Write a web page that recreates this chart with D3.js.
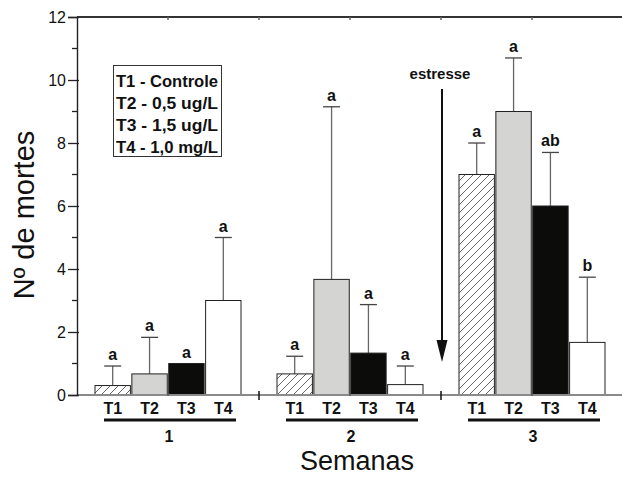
<!DOCTYPE html>
<html>
<head>
<meta charset="utf-8">
<script src="https://cdn.jsdelivr.net/npm/d3@7"></script>
<style>
  html, body { margin: 0; padding: 0; background: #fff; }
  svg { display: block; font-family: "Liberation Sans", Arial, sans-serif; }
</style>
</head>
<body>
<script>
// weeks and treatments
const weeks = ["1", "2", "3"];
const treatments = ["T1", "T2", "T3", "T4"];
// mean deaths per week, T1..T4
const week1 = [0.3, 0.67, 1.0, 3.0];
const week2 = [0.67, 3.67, 1.33, 0.33];
const week3 = [7.0, 9.0, 6.0, 1.67];
// standard deviation (upper error bar)
const sd1 = [0.62, 1.16, 0, 2.0];
const sd2 = [0.56, 5.48, 1.54, 0.59];
const sd3 = [1.0, 1.7, 1.7, 2.07];
// letters
const let1 = ["a", "a", "a", "a"];
const let2 = ["a", "a", "a", "a"];
const let3 = ["a", "a", "ab", "b"];
const yTicks = [0, 2, 4, 6, 8, 10, 12];
const legendItems = ["T1 - Controle", "T2 - 0,5 ug/L", "T3 - 1,5 ug/L", "T4 - 1,0 mg/L"];

const means = [week1, week2, week3];
const sds = [sd1, sd2, sd3];
const lets = [let1, let2, let3];

const W = 622, H = 477;
const svg = d3.select("body").append("svg").attr("width", W).attr("height", H);

const x = d3.scaleLinear().domain([0.5, 3.5]).range([77, 623]);
const y = d3.scaleLinear().domain([0, 12]).range([395, 17]);
const inner = d3.scaleBand().domain(treatments).range([-73, 73]).paddingInner(0.04);

const fills = { T1: "url(#hatch)", T2: "#d4d4d2", T3: "#0c0c0a", T4: "#ffffff" };

const defs = svg.append("defs");
const pat = defs.append("pattern")
  .attr("id", "hatch").attr("patternUnits", "userSpaceOnUse")
  .attr("width", 8).attr("height", 8);
pat.append("rect").attr("width", 8).attr("height", 8).attr("fill", "#fff");
pat.append("path").attr("d", "M-2,2 L2,-2 M0,8 L8,0 M6,10 L10,6")
  .attr("stroke", "#555").attr("stroke-width", 0.9);

// rows
const rows = [];
weeks.forEach((w, gi) => {
  treatments.forEach((t, ti) => {
    rows.push({ week: gi + 1, t, v: means[gi][ti], sd: sds[gi][ti], l: lets[gi][ti] });
  });
});

// error bars
const eb = svg.append("g");
rows.forEach(d => {
  const cx = x(d.week) + inner(d.t) + inner.bandwidth() / 2;
  if (d.sd > 0) {
    eb.append("line").attr("x1", cx).attr("x2", cx)
      .attr("y1", y(d.v)).attr("y2", y(d.v + d.sd))
      .attr("stroke", "#666").attr("stroke-width", 1.3);
    eb.append("line").attr("x1", cx - 8.5).attr("x2", cx + 8.5)
      .attr("y1", y(d.v + d.sd)).attr("y2", y(d.v + d.sd))
      .attr("stroke", "#444").attr("stroke-width", 1.3);
  }
});

// bars
svg.append("g").selectAll("rect").data(rows).join("rect")
  .attr("x", d => x(d.week) + inner(d.t))
  .attr("y", d => y(d.v))
  .attr("width", inner.bandwidth())
  .attr("height", d => y(0) - y(d.v))
  .attr("fill", d => fills[d.t])
  .attr("stroke", "#222").attr("stroke-width", 1);

// letters
svg.append("g").selectAll("text").data(rows).join("text")
  .attr("x", d => x(d.week) + inner(d.t) + inner.bandwidth() / 2)
  .attr("y", d => y(d.v + d.sd) - 6)
  .attr("text-anchor", "middle")
  .attr("font-size", 16).attr("font-weight", "bold").attr("fill", "#111")
  .text(d => d.l);

// frame: top line and bottom axis
svg.append("line").attr("x1", 77).attr("x2", W).attr("y1", y(12)).attr("y2", y(12))
  .attr("stroke", "#333").attr("stroke-width", 2);
svg.append("line").attr("x1", 77).attr("x2", W).attr("y1", y(0)).attr("y2", y(0))
  .attr("stroke", "#8a8a8a").attr("stroke-width", 2.2);

// top ticks and bottom ticks
[1, 1.5, 2, 2.5, 3].forEach(v => {
  svg.append("line").attr("x1", x(v)).attr("x2", x(v)).attr("y1", y(12)).attr("y2", y(12) + 3)
    .attr("stroke", "#666").attr("stroke-width", 1.5);
});
[1.5, 2.5].forEach(v => {
  svg.append("line").attr("x1", x(v)).attr("x2", x(v)).attr("y1", y(0) - 4).attr("y2", y(0) + 5)
    .attr("stroke", "#111").attr("stroke-width", 1.5);
});
[1, 2, 3].forEach(v => {
  svg.append("line").attr("x1", x(v)).attr("x2", x(v)).attr("y1", y(0) - 2).attr("y2", y(0) + 1)
    .attr("stroke", "#555").attr("stroke-width", 1.5);
});

// y axis
const yAxis = d3.axisLeft(y).tickValues(yTicks).tickSize(9).tickPadding(2).tickFormat(d3.format("d"));
const ya = svg.append("g").attr("transform", "translate(77,0)").call(yAxis);
ya.select(".domain").attr("stroke", "#222").attr("stroke-width", 1.4);
ya.selectAll(".tick line").attr("stroke", "#222").attr("stroke-width", 1.3).attr("x2", -9).attr("x1", 2);
ya.selectAll(".tick text").attr("font-size", 16).attr("fill", "#111")
  .attr("font-family", "Liberation Sans, Arial, sans-serif");
svg.append("g").selectAll("line").data(d3.range(1, 12, 2)).join("line")
  .attr("x1", 72).attr("x2", 77).attr("y1", d => y(d)).attr("y2", d => y(d))
  .attr("stroke", "#222").attr("stroke-width", 1.3);

// treatment labels, underlines, week labels
weeks.forEach((w, gi) => {
  const g = svg.append("g").attr("transform", `translate(${x(gi + 1)},0)`);
  g.selectAll("text.t").data(treatments).join("text").attr("class", "t")
    .attr("x", t => inner(t) + inner.bandwidth() / 2).attr("y", 414)
    .attr("text-anchor", "middle").attr("font-size", 16).attr("font-weight", "bold").attr("fill", "#111")
    .text(t => t);
  g.append("line").attr("x1", -64).attr("x2", 68).attr("y1", 420).attr("y2", 420)
    .attr("stroke", "#111").attr("stroke-width", 3);
  g.append("text").attr("x", 1).attr("y", 442).attr("text-anchor", "middle")
    .attr("font-size", 16).attr("font-weight", "bold").attr("fill", "#111").text(w);
});

// legend
svg.append("rect").attr("x", 113.5).attr("y", 65.5).attr("width", 108).attr("height", 91)
  .attr("fill", "#fff").attr("stroke", "#333").attr("stroke-width", 1);
svg.append("g").selectAll("text").data(legendItems).join("text")
  .attr("x", 116).attr("y", (d, i) => 87 + i * 22)
  .attr("font-size", 16).attr("font-weight", "bold").attr("fill", "#111")
  .attr("textLength", 102).attr("lengthAdjust", "spacingAndGlyphs")
  .text(d => d);

// stress arrow
svg.append("text").attr("x", 440).attr("y", 79).attr("text-anchor", "middle")
  .attr("font-size", 15).attr("font-weight", "bold").attr("fill", "#111").text("estresse");
svg.append("line").attr("x1", 442).attr("x2", 442).attr("y1", 89).attr("y2", 345)
  .attr("stroke", "#111").attr("stroke-width", 2);
svg.append("path").attr("d", "M436.5,340 L447.5,340 L442,362 Z").attr("fill", "#111");

// axis titles
svg.append("text").attr("transform", "translate(34,215) rotate(-90)")
  .attr("text-anchor", "middle").attr("font-size", 29).attr("fill", "#111").text("Nº de mortes");
svg.append("text").attr("x", 357).attr("y", 470).attr("text-anchor", "middle")
  .attr("font-size", 27).attr("fill", "#111").text("Semanas");
</script>
</body>
</html>
